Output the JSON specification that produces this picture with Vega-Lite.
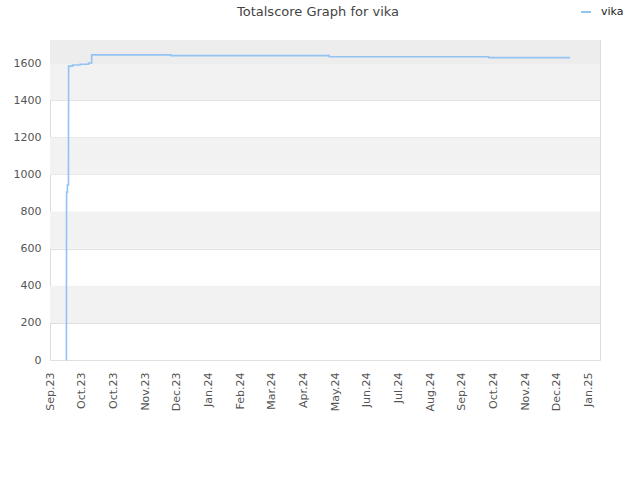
{
  "$schema": "https://vega.github.io/schema/vega-lite/v6.json",
  "autosize": {"type": "none"},
  "width": 550,
  "height": 320,
  "padding": {"left": 50, "top": 40, "right": 40, "bottom": 120},
  "background": "#ffffff",
  "title": {"text": "Totalscore Graph for vika", "fontSize": 13, "fontWeight": "normal", "font": "DejaVu Sans", "color": "#444444", "anchor": "middle", "dx": -7, "offset": -13},
  "config": {
    "view": {"stroke": "#dcdcdc", "strokeWidth": 1},
    "font": "DejaVu Sans",
    "axisY": {"labelOverlap": false}
  },
  "resolve": {"scale": {"color": "independent"}},
  "datasets": {
    "bands": [
      {"lo": 200, "hi": 400, "kind": "band"},
      {"lo": 600, "hi": 800, "kind": "band"},
      {"lo": 1000, "hi": 1200, "kind": "band"},
      {"lo": 1400, "hi": 1600, "kind": "band"},
      {"lo": 1600, "hi": 1725, "kind": "top"}
    ],
    "scores": [
      {"date": "2023-09-16T12:00:00Z", "score": 0, "name": "vika"},
      {"date": "2023-09-16T13:00:00Z", "score": 180, "name": "vika"},
      {"date": "2023-09-16T14:00:00Z", "score": 420, "name": "vika"},
      {"date": "2023-09-16T15:00:00Z", "score": 650, "name": "vika"},
      {"date": "2023-09-16T16:00:00Z", "score": 820, "name": "vika"},
      {"date": "2023-09-16T17:00:00Z", "score": 905, "name": "vika"},
      {"date": "2023-09-17T12:00:00Z", "score": 943, "name": "vika"},
      {"date": "2023-09-18T12:00:00Z", "score": 1100, "name": "vika"},
      {"date": "2023-09-18T13:00:00Z", "score": 1300, "name": "vika"},
      {"date": "2023-09-18T14:00:00Z", "score": 1450, "name": "vika"},
      {"date": "2023-09-18T15:00:00Z", "score": 1584, "name": "vika"},
      {"date": "2023-09-22T12:00:00Z", "score": 1590, "name": "vika"},
      {"date": "2023-09-29T12:00:00Z", "score": 1594, "name": "vika"},
      {"date": "2023-10-07T12:00:00Z", "score": 1601, "name": "vika"},
      {"date": "2023-10-10T12:00:00Z", "score": 1645, "name": "vika"},
      {"date": "2023-12-24T12:00:00Z", "score": 1641, "name": "vika"},
      {"date": "2024-05-22T12:00:00Z", "score": 1635, "name": "vika"},
      {"date": "2024-10-20T12:00:00Z", "score": 1630, "name": "vika"},
      {"date": "2025-01-05T12:00:00Z", "score": 1630, "name": "vika"}
    ]
  },
  "layer": [
    {
      "data": {"name": "bands"},
      "mark": {"type": "rect", "strokeWidth": 0},
      "encoding": {
        "y": {
          "field": "lo", "type": "quantitative",
          "scale": {"domain": [0, 1725], "nice": false},
          "axis": {
            "title": null,
            "values": [0, 200, 400, 600, 800, 1000, 1200, 1400, 1600],
            "format": "d",
            "labelOverlap": false,
            "labelFontSize": 11,
            "labelColor": "#555555",
            "labelPadding": 9,
            "ticks": false,
            "domain": false,
            "grid": true,
            "gridColor": "#e0e0e0",
            "gridWidth": 1
          }
        },
        "y2": {"field": "hi"},
        "color": {"field": "kind", "type": "nominal", "scale": {"domain": ["band", "top"], "range": ["#f2f2f2", "#ededed"]}, "legend": null}
      }
    },
    {
      "data": {"name": "scores"},
      "mark": {"type": "line", "interpolate": "step-after", "strokeWidth": 1.6},
      "encoding": {
        "x": {
          "field": "date", "type": "temporal",
          "scale": {"type": "utc", "domain": [{"year": 2023, "month": 9, "date": 1, "utc": true}, {"year": 2025, "month": 2, "date": 3, "utc": true}]},
          "axis": {
            "title": null,
            "values": [
              {"year": 2023, "month": 9, "date": 1, "utc": true},
              {"year": 2023, "month": 10, "date": 1, "utc": true},
              {"year": 2023, "month": 10, "date": 31, "utc": true},
              {"year": 2023, "month": 11, "date": 30, "utc": true},
              {"year": 2023, "month": 12, "date": 30, "utc": true},
              {"year": 2024, "month": 1, "date": 29, "utc": true},
              {"year": 2024, "month": 2, "date": 28, "utc": true},
              {"year": 2024, "month": 3, "date": 29, "utc": true},
              {"year": 2024, "month": 4, "date": 28, "utc": true},
              {"year": 2024, "month": 5, "date": 28, "utc": true},
              {"year": 2024, "month": 6, "date": 27, "utc": true},
              {"year": 2024, "month": 7, "date": 27, "utc": true},
              {"year": 2024, "month": 8, "date": 26, "utc": true},
              {"year": 2024, "month": 9, "date": 25, "utc": true},
              {"year": 2024, "month": 10, "date": 25, "utc": true},
              {"year": 2024, "month": 11, "date": 24, "utc": true},
              {"year": 2024, "month": 12, "date": 24, "utc": true},
              {"year": 2025, "month": 1, "date": 23, "utc": true}
            ],
            "labelExpr": "utcFormat(datum.value, '%b.%y')",
            "labelAngle": -90,
            "labelAlign": "right",
            "labelBaseline": "middle",
            "labelFontSize": 11,
            "labelColor": "#555555",
            "labelPadding": 12,
            "labelFlush": false,
            "labelOverlap": false,
            "ticks": false,
            "domain": false,
            "grid": false
          }
        },
        "y": {
          "field": "score", "type": "quantitative",
          "axis": {
            "title": null,
            "values": [0, 200, 400, 600, 800, 1000, 1200, 1400, 1600],
            "format": "d",
            "labelOverlap": false,
            "labelFontSize": 11,
            "labelColor": "#555555",
            "labelPadding": 9,
            "ticks": false,
            "domain": false,
            "grid": true,
            "gridColor": "#e0e0e0",
            "gridWidth": 1
          }
        },
        "color": {
          "field": "name", "type": "nominal",
          "scale": {"range": ["#92c3f3"]},
          "legend": {
            "title": null,
            "orient": "none",
            "legendX": 530,
            "legendY": -34,
            "symbolType": "stroke",
            "symbolStrokeWidth": 2,
            "symbolSize": 100,
            "labelOffset": 9,
            "labelFontSize": 11,
            "labelColor": "#222222"
          }
        }
      }
    }
  ]
}
